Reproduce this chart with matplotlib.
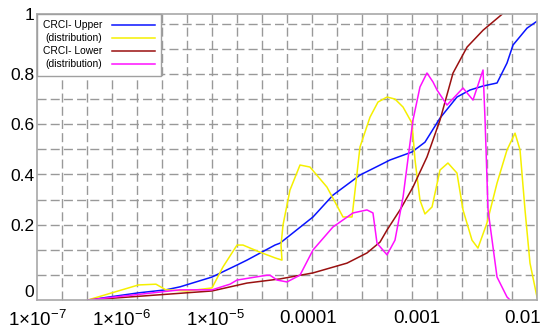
import numpy as np
import matplotlib.pyplot as plt
from matplotlib.ticker import FixedLocator, NullFormatter

plt.rcParams['font.family'] = ['Liberation Sans', 'DejaVu Sans']
plt.rcParams['mathtext.fontset'] = 'custom'
plt.rcParams['mathtext.rm'] = 'Liberation Sans'
plt.rcParams['mathtext.default'] = 'regular'

# values (x as log10 exponent)
upper_x = [-6.395, -5.814, -5.523, -5.372, -5.032, -4.763, -4.656, -4.355, -4.301,
           -3.954, -3.771, -3.523, -3.339, -3.248, -3.046, -2.925, -2.783, -2.623,
           -2.500, -2.377, -2.245, -2.151, -2.094, -1.962, -1.868]
upper_y = [0, 0.019, 0.027, 0.035, 0.061, 0.093, 0.106, 0.146, 0.151,
           0.231, 0.318, 0.398, 0.438, 0.458, 0.490, 0.529, 0.625, 0.709,
           0.737, 0.753, 0.765, 0.837, 0.897, 0.953, 0.976]

lower_x = [-6.395, -5.032, -4.656, -4.301, -3.954, -3.642, -3.459, -3.339, -3.275,
           -3.156, -3.037, -2.906, -2.783, -2.660, -2.528, -2.377, -2.198]
lower_y = [0, 0.024, 0.045, 0.056, 0.072, 0.098, 0.125, 0.154, 0.186,
           0.259, 0.350, 0.470, 0.617, 0.804, 0.890, 0.946, 0.999]

upper_dist_x = [-6.395, -5.814, -5.628, -5.523, -5.298, -5.032, -4.914, -4.763, -4.699,
                -4.516, -4.355, -4.280, -4.290, -4.269, -4.194, -4.086, -3.982, -3.826,
                -3.679, -3.596, -3.523, -3.431, -3.358, -3.275, -3.202, -3.128, -3.046,
                -3.018, -2.972, -2.925, -2.858, -2.783, -2.708, -2.623, -2.566, -2.481,
                -2.425, -2.340, -2.245, -2.151, -2.075, -2.028, -1.981, -1.934, -1.868]
upper_dist_y = [0, 0.040, 0.042, 0.027, 0.024, 0.032, 0.088, 0.146, 0.146,
                0.127, 0.112, 0.106, 0.146, 0.199, 0.338, 0.438, 0.430, 0.350,
                0.231, 0.231, 0.510, 0.629, 0.689, 0.709, 0.701, 0.669, 0.605,
                0.458, 0.298, 0.243, 0.271, 0.418, 0.446, 0.406, 0.259, 0.159,
                0.138, 0.207, 0.366, 0.498, 0.565, 0.498, 0.259, 0.098, 0.008]

lower_dist_x = [-6.395, -5.372, -5.032, -4.839, -4.763, -4.441, -4.409, -4.333, -4.226,
                -4.086, -3.954, -3.771, -3.587, -3.459, -3.404, -3.367, -3.275, -3.202,
                -3.128, -3.037, -2.972, -2.906, -2.849, -2.811, -2.717, -2.566, -2.472,
                -2.377, -2.358, -2.330, -2.245, -2.151, -2.122]
lower_dist_y = [0, 0.027, 0.027, 0.042, 0.053, 0.066, 0.066, 0.053, 0.048,
                0.066, 0.133, 0.194, 0.247, 0.259, 0.247, 0.151, 0.120, 0.159,
                0.310, 0.617, 0.749, 0.804, 0.769, 0.737, 0.677, 0.745, 0.697,
                0.814, 0.617, 0.259, 0.061, 0.008, 0]

x_ticks = [1e-7, 1e-6, 1e-5, 1e-4, 1e-3, 1e-2]
x_ticklabels = ['1×10$^{-7}$', '1×10$^{-6}$', '1×10$^{-5}$', '0.0001', '0.001', '0.01']
y_ticks = [0, 0.2, 0.4, 0.6, 0.8, 1]
y_ticklabels = ['0', '0.2', '0.4', '0.6', '0.8', '1']

# the source figure's axes are not evenly spaced: calibrate from its tick labels
x_knots = [-8, -7, -6, -5, -4, -3, -2, -1]
x_place = [-86, 0, 84, 178, 271, 380, 486, 592]
y_knots = [-0.2, 0, 0.2, 0.4, 0.6, 0.8, 1.0, 1.2]
y_place = [-3, 0, 3, 5, 7, 9, 11.4, 13.8]


def fwd_x(x):
    return np.interp(np.log10(np.maximum(x, 1e-12)), x_knots, x_place)


def inv_x(u):
    return 10.0 ** np.interp(u, x_place, x_knots)


def fwd_y(y):
    return np.interp(y, y_knots, y_place)


def inv_y(k):
    return np.interp(k, y_place, y_knots)


fig = plt.figure(figsize=(5.5, 3.3), dpi=100)
ax = fig.add_axes([37 / 550, 30 / 330, 500 / 550, 286 / 330])
ax.set_xscale('function', functions=(fwd_x, inv_x))
ax.set_yscale('function', functions=(fwd_y, inv_y))

lw = 1.1
ax.plot(10.0 ** np.array(upper_x), upper_y, color='#0a14ff', lw=lw, label='CRCI- Upper')
ax.plot(10.0 ** np.array(upper_dist_x), upper_dist_y, color='#f5f000', lw=lw, label='(distribution)')
ax.plot(10.0 ** np.array(lower_x), lower_y, color='#9a1010', lw=lw, label='CRCI- Lower')
ax.plot(10.0 ** np.array(lower_dist_x), lower_dist_y, color='#ff10ff', lw=lw, label='(distribution)')

ax.set_xlim(inv_x(0) * 0.9999, inv_x(500))
ax.set_ylim(0, 1)

ax.xaxis.set_major_locator(FixedLocator(x_ticks))
ax.set_xticklabels(x_ticklabels)
ax.xaxis.set_minor_locator(FixedLocator(inv_x(25 * np.arange(1, 20))))
ax.xaxis.set_minor_formatter(NullFormatter())
ax.yaxis.set_major_locator(FixedLocator(y_ticks))
ax.set_yticklabels(y_ticklabels)
ax.yaxis.set_minor_locator(FixedLocator(inv_y(np.arange(1, 12) * 11.4 / 11.39)))
ax.yaxis.set_minor_formatter(NullFormatter())

ax.grid(True, which='minor', color='#999999', lw=1.0, linestyle=(0, (6.5, 3)))
ax.grid(False, which='major')
ax.tick_params(which='major', length=0)
ax.tick_params(axis='x', which='major', labelsize=13.5, pad=7)
ax.tick_params(axis='y', which='major', labelsize=12.5, pad=2)
ax.tick_params(which='minor', direction='in', length=3, color='#999999')
ax.get_yticklabels()[0].set_va('bottom')

for sp in ax.spines.values():
    sp.set_color('#a8a8a8')
    sp.set_linewidth(1.2)

leg = ax.legend(loc='upper left', bbox_to_anchor=(0, 1), borderaxespad=0,
                markerfirst=False, fontsize=7.4, handlelength=4.2,
                handletextpad=0.9, labelspacing=0.3, borderpad=0.6,
                fancybox=False, framealpha=1)
leg.get_frame().set_edgecolor('#a0a0a0')
leg.get_frame().set_linewidth(1.0)
for t in leg.get_texts():
    t.set_ha('left')

fig.savefig('out.png', dpi=100)
